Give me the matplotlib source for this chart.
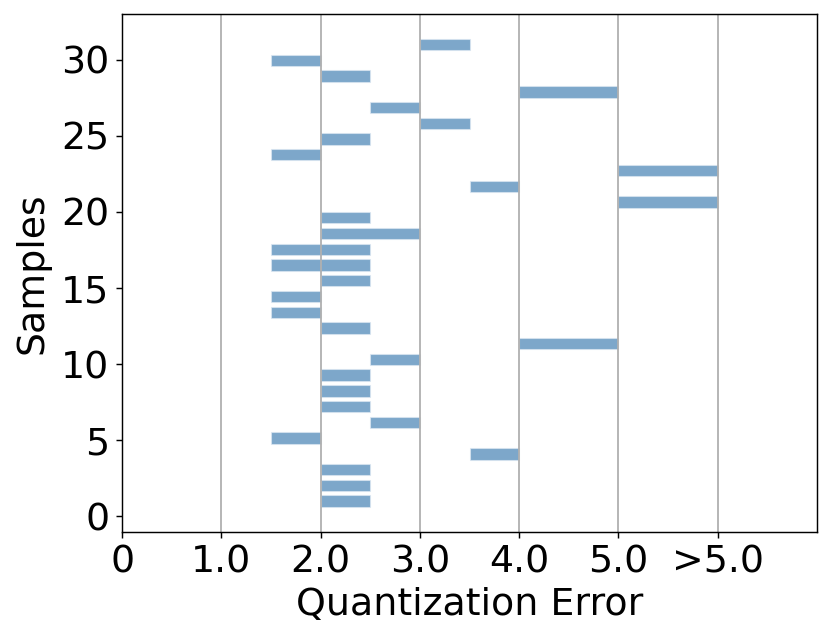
import numpy as np
import matplotlib
matplotlib.use("Agg")
import matplotlib.pyplot as plt


# Quantization error bins (start, end) per sample, bottom to top. Column 5..6 stands for ">5.0".
SAMPLES = list(range(1, 31))
ERR_START = [2.0, 2.0, 2.0, 3.5, 1.5, 2.5, 2.0, 2.0, 2.0, 2.5,
             4.0, 2.0, 1.5, 1.5, 2.0, 1.5, 1.5, 2.0, 2.0, 5.0,
             3.5, 5.0, 1.5, 2.0, 3.0, 2.5, 4.0, 2.0, 1.5, 3.0]
ERR_END = [2.5, 2.5, 2.5, 4.0, 2.0, 3.0, 2.5, 2.5, 2.5, 3.0,
           5.0, 2.5, 2.0, 2.0, 2.5, 2.5, 2.5, 3.0, 2.5, 6.0,
           4.0, 6.0, 2.0, 2.5, 3.5, 3.0, 5.0, 2.5, 2.0, 3.5]

X_TICKS = [0, 1, 2, 3, 4, 5, 6]
X_TICK_LABELS = ["0", "1.0", "2.0", "3.0", "4.0", "5.0", ">5.0"]

# Layout
BAR_HEIGHT = 0.75
BAR_COLOR = "steelblue"
TICK_SIZE = 21
LABEL_SIZE = 21


def show_plot(save="out.png"):
    """
    Draws one horizontal bar per sample covering its quantization error bin.
    :param save: file name of the saved figure
    """

    fig = plt.figure(figsize=(831 / 130, 642 / 130), dpi=130)
    ax = fig.add_axes([0.147, 0.172, 0.836, 0.806])

    # rows are spread evenly over the y range 1..31
    rows = np.linspace(1, 31, len(SAMPLES))
    widths = np.array(ERR_END) - np.array(ERR_START)
    ax.barh(rows, widths, left=ERR_START, height=BAR_HEIGHT,
            color=BAR_COLOR, alpha=0.7, edgecolor="#dbe7f2", linewidth=0.6)

    ax.set_xlim(0, 7)
    ax.set_ylim(-1, 33)
    ax.set_xticks(X_TICKS)
    ax.set_xticklabels(X_TICK_LABELS)
    ax.set_yticks(range(0, 31, 5))
    ax.tick_params(labelsize=TICK_SIZE)
    ax.grid(axis="x", color="#b0b0b0", linewidth=1.0)

    ax.set_xlabel("Quantization Error", fontsize=LABEL_SIZE, labelpad=4)
    ax.set_ylabel("Samples", fontsize=LABEL_SIZE, labelpad=6)

    fig.savefig(save, dpi=130)


def main():
    show_plot()


if __name__ == "__main__":
    main()
